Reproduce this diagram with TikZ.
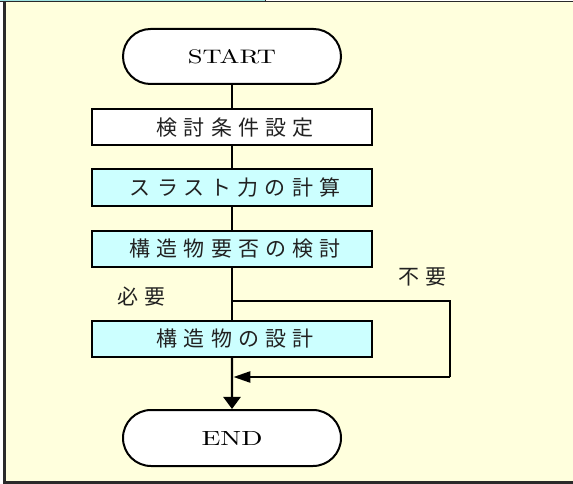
\documentclass[tikz,border=0pt]{standalone}
\usepackage{fontspec}
\usepackage{graphicx}
\usetikzlibrary{shapes.misc,arrows.meta}
\newfontfamily\jpfont[LetterSpace=29]{Noto Sans CJK JP}
\definecolor{bgyellow}{HTML}{FFFFDD}
\definecolor{boxcyan}{HTML}{CCFFFF}
\definecolor{framegray}{HTML}{2A2A2A}
\definecolor{tabcyan}{HTML}{9FE3E3}
\definecolor{txtgray}{HTML}{222222}
\tikzset{
  proc/.style={draw=black, line width=2pt, rectangle, minimum width=280pt,
    minimum height=36pt, inner sep=0pt, text=txtgray,
    font=\jpfont\fontsize{21}{21}\selectfont},
  plainbox/.style={proc, fill=white},
  cyanbox/.style={proc, fill=boxcyan},
  terminal/.style={draw=black, line width=2pt, fill=white, rounded rectangle,
    minimum width=218pt, minimum height=55pt, inner sep=0pt},
  conn/.style={line width=2.4pt},
  lbl/.style={font=\jpfont\fontsize{21}{21}\selectfont, inner sep=0pt, text=txtgray},
}
\begin{document}
\begin{tikzpicture}[x=1pt,y=-1pt]
\useasboundingbox (0,0) rectangle (573,484);
\fill[white] (0,0) rectangle (573,484);
\fill[bgyellow] (5,2) rectangle (574,482);
\draw[framegray, line width=1.2pt] (4,1.6) -- (574,1.6);
\draw[framegray, line width=2.4pt] (4.5,1.5) -- (4.5,482.3) -- (574,482.3);
\filldraw[fill=tabcyan, draw=framegray, line width=0.6pt] (-1,-1) rectangle (265,1.6);

\node[terminal] (start) at (232,56.5) {\resizebox{88pt}{14pt}{START}};
\node[plainbox] (b1) at (232,127.5) {\hspace*{6.1pt}検討条件設定};
\node[cyanbox] (b2) at (232,187.5) {\hspace*{6.1pt}スラスト力の計算};
\node[cyanbox] (b3) at (232,249) {\hspace*{6.1pt}構造物要否の検討};
\node[cyanbox] (b4) at (232,338.5) {\hspace*{6.1pt}構造物の設計};
\node[terminal, minimum height=56pt] (end) at (232,438) {\resizebox{61pt}{14pt}{END}};

\coordinate (j) at (232,301);
\coordinate (jr) at (450,301);
\coordinate (rr) at (450,377);
\coordinate (rl) at (233.4,377);

\node[lbl] (need) at (138,297) {\hspace*{6.1pt}必要};
\node[lbl] (noneed) at (419,277) {\hspace*{6.1pt}不要};

\draw[conn] (start) -- (b1);
\draw[conn] (b1) -- (b2);
\draw[conn] (b2) -- (b3);
\draw[conn] (b3) -- (b4);
\draw[conn, -{Triangle[width=17pt,length=12pt]}] (b4) -- (end);
\draw[conn] (j) -- (jr) -- (rr);
\draw[conn, -{Triangle[width=11pt,length=17pt]}] (rr) -- (rl);
\end{tikzpicture}
\end{document}
